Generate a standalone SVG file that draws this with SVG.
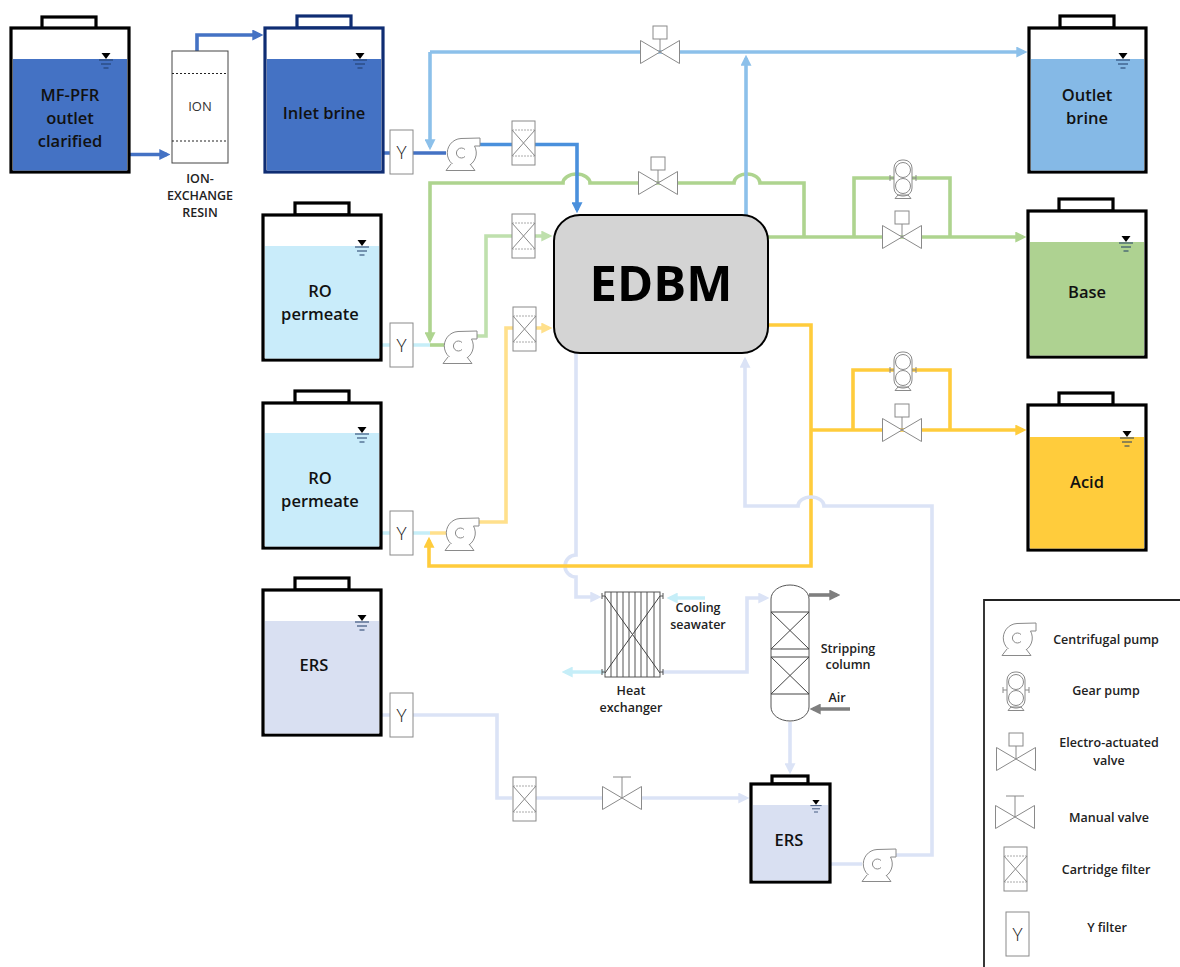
<svg xmlns="http://www.w3.org/2000/svg" width="1180" height="967" viewBox="0 0 1180 967">
<style>
text{font-family:"Open Sans","Noto Sans","Liberation Sans",sans-serif;text-anchor:middle;fill:#111}
.tl{font-size:16.5px;font-weight:600}
.sm{font-size:12.500px;font-weight:600;fill:#222}
.lg{font-size:12.500px;font-weight:600;fill:#222}
.tank{stroke:#000;stroke-width:3.2;fill:#fff}
.navy{stroke:#0f2d73}
.p{fill:none;stroke-width:3.6;stroke-linejoin:miter}
.sym{fill:#fff;stroke:#8a8a8a;stroke-width:1}
.sym2{fill:none;stroke:#8a8a8a;stroke-width:1}
.b0{stroke:#4472c4}.b1{stroke:#4a90dc}.b2{stroke:#8cc0ea}.g{stroke:#aed48f}.g2{stroke:#bfe0ad}.c{stroke:#c6eef8}.y{stroke:#ffcc3c}.y2{stroke:#ffe08c}.e{stroke:#dbe3f6}.gy{stroke:#7f7f7f}
</style>
<defs>
<marker id="mb0" markerUnits="userSpaceOnUse" markerWidth="11" markerHeight="11" viewBox="0 0 10 10" refX="7" refY="5" orient="auto"><path d="M0 0L10 5L0 10z" fill="#4472c4"/></marker>
<marker id="mb1" markerUnits="userSpaceOnUse" markerWidth="11" markerHeight="11" viewBox="0 0 10 10" refX="7" refY="5" orient="auto"><path d="M0 0L10 5L0 10z" fill="#4a90dc"/></marker>
<marker id="mb2" markerUnits="userSpaceOnUse" markerWidth="11" markerHeight="11" viewBox="0 0 10 10" refX="7" refY="5" orient="auto"><path d="M0 0L10 5L0 10z" fill="#8cc0ea"/></marker>
<marker id="mg" markerUnits="userSpaceOnUse" markerWidth="11" markerHeight="11" viewBox="0 0 10 10" refX="7" refY="5" orient="auto"><path d="M0 0L10 5L0 10z" fill="#aed48f"/></marker>
<marker id="mg2" markerUnits="userSpaceOnUse" markerWidth="11" markerHeight="11" viewBox="0 0 10 10" refX="7" refY="5" orient="auto"><path d="M0 0L10 5L0 10z" fill="#bfe0ad"/></marker>
<marker id="mc" markerUnits="userSpaceOnUse" markerWidth="11" markerHeight="11" viewBox="0 0 10 10" refX="7" refY="5" orient="auto"><path d="M0 0L10 5L0 10z" fill="#c6eef8"/></marker>
<marker id="my" markerUnits="userSpaceOnUse" markerWidth="11" markerHeight="11" viewBox="0 0 10 10" refX="7" refY="5" orient="auto"><path d="M0 0L10 5L0 10z" fill="#ffcc3c"/></marker>
<marker id="my2" markerUnits="userSpaceOnUse" markerWidth="11" markerHeight="11" viewBox="0 0 10 10" refX="7" refY="5" orient="auto"><path d="M0 0L10 5L0 10z" fill="#ffe08c"/></marker>
<marker id="me" markerUnits="userSpaceOnUse" markerWidth="11" markerHeight="11" viewBox="0 0 10 10" refX="7" refY="5" orient="auto"><path d="M0 0L10 5L0 10z" fill="#dbe3f6"/></marker>
<marker id="mgy" markerUnits="userSpaceOnUse" markerWidth="11" markerHeight="11" viewBox="0 0 10 10" refX="7" refY="5" orient="auto"><path d="M0 0L10 5L0 10z" fill="#7f7f7f"/></marker>
<g id="level"><path d="M-4.500 0H4.500L0 6z" fill="#000"/><path d="M-7 7H7M-5 11H5M-2.500 15H2.500" stroke="#1f3a66" stroke-width="1" fill="none"/></g>
<g id="pump"><path class="sym" d="M15 .5L34 0V8H28.500A14.500 14.500 0 1 1 15 .5z"/><path class="sym2" d="M19 11.500A5 5 0 1 0 19 18.500"/><path class="sym" d="M5 26L0 32.500H29L24 26"/></g>
<g id="gear"><rect class="sym" x="-9" y="-19" width="18" height="36" rx="8"/><circle class="sym" cx="0" cy="-9" r="7.500"/><circle class="sym" cx="0" cy="7" r="7.500"/><path class="sym2" d="M-9 -1H-13M-13 -4V2M9 -1H13M13 -4V2M-8 19.500H8L5 16H-5z"/></g>
<g id="bow"><path class="sym" d="M-19.500 -11.500L19.500 11.500V-11.500L-19.500 11.500z"/></g>
<g id="evalve"><use href="#bow"/><path class="sym2" d="M0 0V-13"/><rect class="sym" x="-7" y="-26" width="14" height="13"/></g>
<g id="mvalve"><use href="#bow"/><path class="sym2" d="M0 0V-21M-9 -21H9"/></g>
<g id="cart"><rect class="sym" x="0" y="0" width="23" height="44"/><path d="M0 9H23M0 35H23" stroke="#aaa" stroke-width="1" stroke-dasharray="2 1" fill="none"/><path class="sym2" d="M0 9L23 35M23 9L0 35"/></g>
<g id="yf"><rect class="sym" x="0" y="0" width="23" height="44"/><text x="11.500" y="29" style="font-size:19px;font-weight:300;fill:#222">Y</text></g>
</defs>
<rect width="1180" height="967" fill="#fff"/>

<g id="connectors">
<path class="p b0" d="M129 154.500H167" marker-end="url(#mb0)"/>
<path class="p b0" d="M197 51V35H260" marker-end="url(#mb0)"/>
<path class="p b0" d="M383 153H390M413 153H446"/>
<path class="p g" d="M804 237V183H760A13 9 0 0 0 734 183H590A13.500 9 0 0 0 563 183H430V340" marker-end="url(#mg)"/>
<path class="p b2" d="M430 52H1024" marker-end="url(#mb2)"/>
<path class="p b2" d="M430 52V147" marker-end="url(#mb2)"/>
<path class="p b1" d="M479 144.500H512M535 144.500H577V210" marker-end="url(#mb1)"/>
<path class="p b2" d="M746 215V58" marker-end="url(#mb2)"/>
<path class="p g" d="M768 237H1023" marker-end="url(#mg)"/>
<path class="p g" d="M854 237V178H950V237"/>
<path class="p c" d="M381 345H390M413 345H430"/>
<path class="p g" d="M430 345H444"/>
<path class="p g2" d="M476 336H486V236H512M535 236H549" marker-end="url(#mg2)"/>
<path class="p c" d="M381 533H390M413 533H430"/>
<path class="p y2" d="M430 533H446M478 522H506V328H513M536 328H549" marker-end="url(#my2)"/>
<path class="p e" d="M576 353V555A11 11 0 0 0 576 577V597H598" marker-end="url(#me)"/>
<path class="p y" d="M768 325H811V566H429V540" marker-end="url(#my)"/>
<path class="p y" d="M811 430H1023" marker-end="url(#my)"/>
<path class="p y" d="M853 430V370H950V430"/>
<path class="p c" d="M705 598H670" marker-end="url(#mc)"/>
<path class="p c" d="M604 672H565" marker-end="url(#mc)"/>
<path class="p e" d="M662 672H747V598H766" marker-end="url(#me)"/>
<path class="p gy" d="M809 595H837" marker-end="url(#mgy)"/>
<path class="p gy" d="M850 709H813" marker-end="url(#mgy)"/>
<path class="p e" d="M790 722V771" marker-end="url(#me)"/>
<path class="p e" d="M381 715H390M413 715H497V798H512M536 798H603M642 798H746" marker-end="url(#me)"/>
<path class="p e" d="M830 864H862M895 855H932V506H824A13 9 0 0 0 798 506H745V360" marker-end="url(#me)"/>
</g>

<g id="tank-mf"><rect class="tank" x="42" y="17" width="54" height="12"/><rect class="tank" x="11" y="28" width="118" height="144"/><rect x="13" y="59" width="114" height="111.500" fill="#4472c4"/><use href="#level" x="106" y="53"/><text class="tl" x="70" y="101">MF-PFR</text><text class="tl" x="70" y="124">outlet</text><text class="tl" x="70" y="147">clarified</text></g>
<g id="ion-resin"><rect x="172" y="51" width="56" height="112" fill="#fff" stroke="#444" stroke-width="1"/><path d="M172 73.500H228M172 141H228" stroke="#222" stroke-width="1" stroke-dasharray="2 2"/><text x="200" y="111" style="font-size:13px;fill:#333">ION</text><text class="sm" x="200" y="183">ION-</text><text class="sm" x="200" y="200">EXCHANGE</text><text class="sm" x="200" y="217">RESIN</text></g>
<g id="tank-inlet"><rect class="tank navy" x="297" y="16" width="54" height="12"/><rect class="tank navy" x="265" y="28" width="118" height="144"/><rect x="267" y="59" width="114" height="111.500" fill="#4472c4"/><use href="#level" x="360" y="53"/><text class="tl" x="324" y="119">Inlet brine</text></g>
<g id="tank-ro1"><rect class="tank" x="295" y="203" width="54" height="12"/><rect class="tank" x="263" y="215" width="118" height="145"/><rect x="265" y="246" width="114" height="112.500" fill="#c9ecfa"/><use href="#level" x="362" y="240"/><text class="tl" x="320" y="297">RO</text><text class="tl" x="320" y="320">permeate</text></g>
<g id="tank-ro2"><rect class="tank" x="295" y="391" width="54" height="12"/><rect class="tank" x="263" y="403" width="118" height="145"/><rect x="265" y="433" width="114" height="113.500" fill="#c9ecfa"/><use href="#level" x="362" y="427"/><text class="tl" x="320" y="484">RO</text><text class="tl" x="320" y="507">permeate</text></g>
<g id="tank-ers1"><rect class="tank" x="295" y="578" width="54" height="12"/><rect class="tank" x="263" y="590" width="118" height="145"/><rect x="265" y="621" width="114" height="112.500" fill="#d9e0f2"/><use href="#level" x="362" y="615"/><text class="tl" x="314" y="671">ERS</text></g>
<g id="tank-outlet"><rect class="tank" x="1060" y="16" width="54" height="12"/><rect class="tank" x="1029" y="28" width="117" height="144"/><rect x="1031" y="59" width="113" height="111.500" fill="#85b9e6"/><use href="#level" x="1123" y="53"/><text class="tl" x="1087" y="101">Outlet</text><text class="tl" x="1087" y="124">brine</text></g>
<g id="tank-base"><rect class="tank" x="1059" y="199" width="54" height="12"/><rect class="tank" x="1028" y="211" width="118" height="146"/><rect x="1030" y="242" width="114" height="113.500" fill="#aed291"/><use href="#level" x="1126" y="236"/><text class="tl" x="1087" y="298">Base</text></g>
<g id="tank-acid"><rect class="tank" x="1059" y="393" width="54" height="12"/><rect class="tank" x="1028" y="405" width="118" height="145"/><rect x="1030" y="437" width="114" height="111.500" fill="#ffcc3c"/><use href="#level" x="1127" y="431"/><text class="tl" x="1087" y="488">Acid</text></g>
<g id="tank-ers2"><rect class="tank" x="772" y="776" width="36" height="8"/><rect class="tank" x="751" y="784" width="79" height="98"/><rect x="753" y="805" width="75" height="75.500" fill="#d9e0f2"/><use href="#level" x="816" y="800" transform="translate(163.200 160) scale(.8)"/><text class="tl" x="789" y="846">ERS</text></g>

<g id="edbm"><rect x="554" y="215" width="214" height="138" rx="26" fill="#d4d4d4" stroke="#000" stroke-width="2"/><text x="661" y="301" style="font-size:49px;font-weight:700;fill:#000">EDBM</text></g>

<g id="yfilter-1"><use href="#yf" x="390" y="130"/></g>
<g id="yfilter-2"><use href="#yf" x="390" y="323"/></g>
<g id="yfilter-3"><use href="#yf" x="390" y="511"/></g>
<g id="yfilter-4"><use href="#yf" x="390" y="693"/></g>
<g id="pump-1"><use href="#pump" x="446" y="138"/></g>
<g id="pump-2"><use href="#pump" x="443" y="331"/></g>
<g id="pump-3"><use href="#pump" x="445" y="518"/></g>
<g id="pump-4"><use href="#pump" x="862" y="849"/></g>
<g id="cart-1"><use href="#cart" x="512" y="121"/></g>
<g id="cart-2"><use href="#cart" x="512" y="214"/></g>
<g id="cart-3"><use href="#cart" x="513" y="307"/></g>
<g id="cart-4"><use href="#cart" x="513" y="777"/></g>
<g id="valve-1"><use href="#evalve" x="660" y="52"/></g>
<g id="valve-2"><use href="#evalve" x="658" y="183"/></g>
<g id="valve-3"><use href="#evalve" x="902" y="237"/></g>
<g id="valve-4"><use href="#evalve" x="902" y="430"/></g>
<g id="valve-5"><use href="#mvalve" x="622" y="798"/></g>
<g id="gear-1"><use href="#gear" x="903" y="179"/></g>
<g id="gear-2"><use href="#gear" x="903" y="371"/></g>

<g id="heat-exchanger"><rect x="605" y="592" width="55" height="85" fill="#fff" stroke="#555" stroke-width="1"/><path d="M611 592V677M617 592V677M623 592V677M629 592V677M635 592V677M641 592V677M647 592V677M654 592V677" stroke="#555" stroke-width="1"/><path d="M605 596L660 673M660 596L605 673" stroke="#444" stroke-width="1" fill="none"/><path d="M602 596H605M602 593V599M663 596H660M663 593V599M602 672H605M602 669V675M663 672H660M663 669V675" stroke="#555" stroke-width="1"/><text class="sm" x="631" y="695">Heat</text><text class="sm" x="631" y="712">exchanger</text><text class="sm" x="698" y="612">Cooling</text><text class="sm" x="698" y="629">seawater</text></g>
<g id="stripping-column"><rect x="771" y="585" width="38" height="136" rx="19" ry="14" fill="#fff" stroke="#555" stroke-width="1"/><path d="M771 612H809M771 649H809M771 657H809M771 694H809M771 612L809 649M809 612L771 649M771 657L809 694M809 657L771 694" stroke="#444" stroke-width="1" fill="none"/><text class="sm" x="848" y="653">Stripping</text><text class="sm" x="848" y="669">column</text><text class="sm" x="837" y="702">Air</text></g>

<g id="legend"><path d="M984 967V600H1180" fill="none" stroke="#222" stroke-width="1.800"/>
<use href="#pump" x="1002" y="623"/><text class="lg" x="1106" y="644">Centrifugal pump</text>
<use href="#gear" x="1016" y="691"/><text class="lg" x="1106" y="695">Gear pump</text>
<use href="#evalve" x="1016" y="759"/><text class="lg" x="1109" y="747">Electro-actuated</text><text class="lg" x="1109" y="765">valve</text>
<use href="#mvalve" x="1015" y="817"/><text class="lg" x="1109" y="822">Manual valve</text>
<use href="#cart" x="1004" y="847"/><text class="lg" x="1106" y="874">Cartridge filter</text>
<use href="#yf" x="1006" y="912"/><text class="lg" x="1107" y="932">Y filter</text>
</g>
</svg>
